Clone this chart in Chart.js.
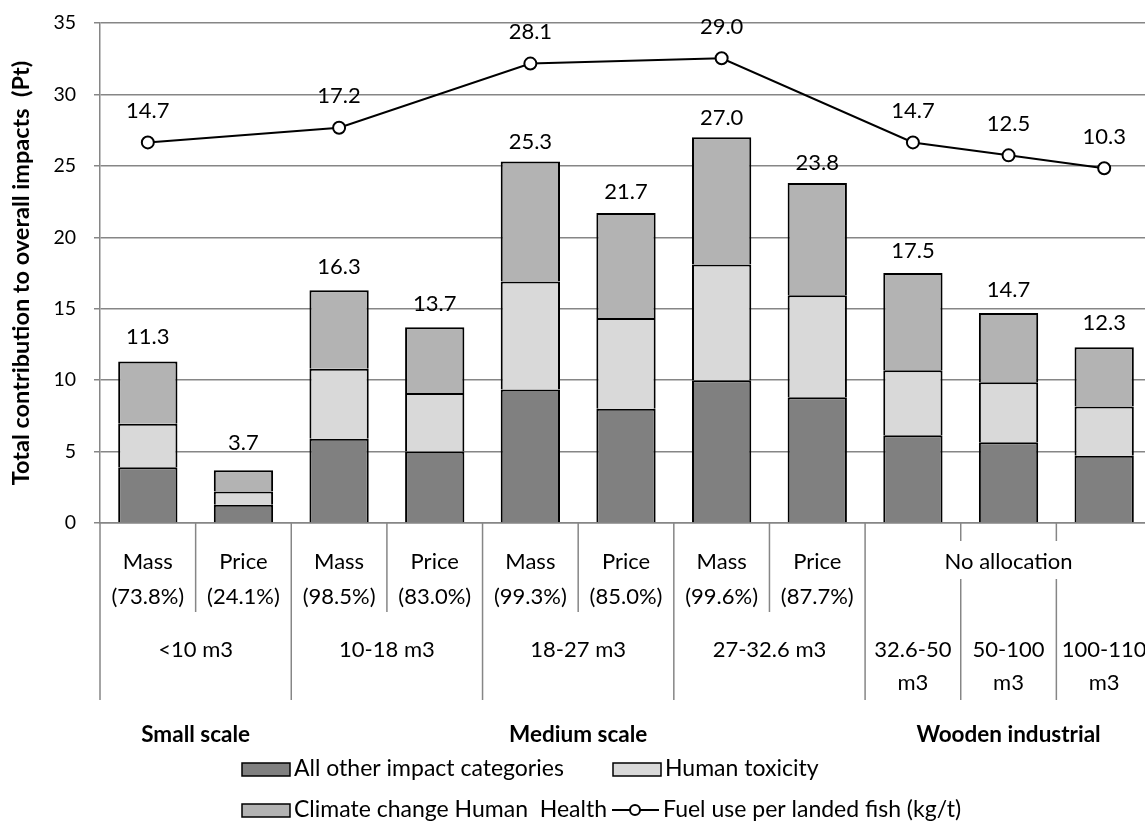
<!DOCTYPE html>
<html>
<head>
<meta charset="utf-8">
<script src="https://cdn.jsdelivr.net/npm/chart.js@4"></script>
<style>
  html, body { margin: 0; padding: 0; background: #fff; overflow: hidden; }
  #wrap { width: 1160px; height: 823px; }
</style>
</head>
<body>
<div id="wrap"><canvas id="bar-chart"></canvas></div>
<script>
// innermost category level (allocation method + share)
var allocation = ['Mass', 'Price', 'Mass', 'Price', 'Mass', 'Price', 'Mass', 'Price', '', '', ''];
var shares = ['(73.8%)', '(24.1%)', '(98.5%)', '(83.0%)', '(99.3%)', '(85.0%)', '(99.6%)', '(87.7%)', '', '', ''];
var noAllocation = { label: 'No allocation', from: 8, to: 10 };

// second level: vessel size
var sizeLabels = [['<10 m3'], ['10-18 m3'], ['18-27 m3'], ['27-32.6 m3'], ['32.6-50', 'm3'], ['50-100', 'm3'], ['100-110', 'm3']];
var sizeFrom = [0, 2, 4, 6, 8, 9, 10];
var sizeTo = [1, 3, 5, 7, 8, 9, 10];

// third level: fleet segment
var scaleLabels = ['Small scale', 'Medium scale', 'Wooden industrial'];
var scaleFrom = [0, 2, 8];
var scaleTo = [1, 7, 10];

// series (Pt)
var otherImpacts = [3.9, 1.27, 5.9, 5.0, 9.35, 8.0, 10.0, 8.8, 6.15, 5.65, 4.7];
var humanToxicity = [3.05, 0.93, 4.9, 4.1, 7.55, 6.35, 8.1, 7.15, 4.55, 4.2, 3.45];
var climateChange = [4.35, 1.5, 5.5, 4.6, 8.4, 7.35, 8.9, 7.85, 6.8, 4.85, 4.15];
// fuel use per landed fish (kg/t), secondary hidden axis
var fuelUse = [14.7, null, 17.2, null, 28.1, null, 29.0, null, 14.7, 12.5, 10.3];

var yTicks = { min: 0, max: 35, step: 5 };

var GRID = '#868686';
var FONT = 'Lato';

Chart.defaults.font.family = FONT;
Chart.defaults.color = '#000';

var labels = allocation.map(function (a, i) { return a + ' ' + shares[i]; });

function catEdge(scale, i) {
    var half = (scale.getPixelForValue(1) - scale.getPixelForValue(0)) / 2;
    if (i >= labels.length) return scale.getPixelForValue(labels.length - 1) + half;
    return scale.getPixelForValue(i) - half;
}

var extraDrawing = {
    id: 'extraDrawing',
    afterDraw: function (chart) {
        var ctx = chart.ctx;
        var x = chart.scales.x, y = chart.scales.y, y1 = chart.scales.y1;
        var axisY = chart.chartArea.bottom;
        ctx.save();
        ctx.textAlign = 'center';
        ctx.textBaseline = 'middle';
        ctx.fillStyle = '#000';

        // totals above the stacks (labels sit a bit closer on the tall bars)
        ctx.font = '22px ' + FONT;
        for (var i = 0; i < labels.length; i++) {
            var total = otherImpacts[i] + humanToxicity[i] + climateChange[i];
            ctx.fillText(total.toFixed(1), x.getPixelForValue(i), y.getPixelForValue(total * 0.975) - 28.6);
        }
        // line point labels
        for (i = 0; i < fuelUse.length; i++) {
            if (fuelUse[i] === null) continue;
            ctx.fillText(fuelUse[i].toFixed(1), x.getPixelForValue(i), y1.getPixelForValue(fuelUse[i]) - 31.5);
        }

        // separators of the multi level axis
        var longEdges = {};
        for (i = 0; i < sizeFrom.length; i++) {
            longEdges[sizeFrom[i]] = true;
            longEdges[sizeTo[i] + 1] = true;
        }
        ctx.strokeStyle = GRID;
        ctx.lineWidth = 1.5;
        for (i = 0; i <= labels.length; i++) {
            var ex = catEdge(x, i);
            ctx.beginPath();
            ctx.moveTo(ex, axisY);
            ctx.lineTo(ex, longEdges[i] ? axisY + 177 : axisY + 89);
            ctx.stroke();
        }

        // level 1
        ctx.font = '22px ' + FONT;
        for (i = 0; i < labels.length; i++) {
            if (!allocation[i]) continue;
            var cx = x.getPixelForValue(i);
            ctx.fillText(allocation[i], cx, axisY + 39);
            ctx.fillText(shares[i], cx, axisY + 74);
        }
        var nx = (x.getPixelForValue(noAllocation.from) + x.getPixelForValue(noAllocation.to)) / 2;
        var nw = ctx.measureText(noAllocation.label).width;
        ctx.fillStyle = '#fff';
        ctx.fillRect(nx - nw / 2 - 4, axisY + 18, nw + 8, 38);
        ctx.fillStyle = '#000';
        ctx.fillText(noAllocation.label, nx, axisY + 39);

        // level 2
        for (i = 0; i < sizeLabels.length; i++) {
            var gx = (catEdge(x, sizeFrom[i]) + catEdge(x, sizeTo[i] + 1)) / 2;
            var lines = sizeLabels[i];
            for (var k = 0; k < lines.length; k++) {
                ctx.fillText(lines[k], gx, axisY + 127 + k * 33);
            }
        }

        // level 3
        ctx.font = 'bold 22.5px ' + FONT;
        for (i = 0; i < scaleLabels.length; i++) {
            var sx = (catEdge(x, scaleFrom[i]) + catEdge(x, scaleTo[i] + 1)) / 2;
            ctx.fillText(scaleLabels[i], sx, axisY + 212);
        }

        // legend
        ctx.font = '23px ' + FONT;
        ctx.textAlign = 'left';
        var legendItems = [
            { text: 'All other impact categories', color: '#808080', x: 242, y: 769 },
            { text: 'Human toxicity', color: '#d9d9d9', x: 613, y: 769 },
            { text: 'Climate change Human  Health', color: '#b3b3b3', x: 242, y: 810 },
            { text: 'Fuel use per landed fish (kg/t)', line: true, x: 613, y: 810 }
        ];
        legendItems.forEach(function (it) {
            if (it.line) {
                ctx.strokeStyle = '#000';
                ctx.lineWidth = 2;
                ctx.beginPath();
                ctx.moveTo(it.x - 1, it.y);
                ctx.lineTo(it.x + 46, it.y);
                ctx.stroke();
                ctx.beginPath();
                ctx.arc(it.x + 22, it.y, 5, 0, Math.PI * 2);
                ctx.fillStyle = '#fff';
                ctx.fill();
                ctx.stroke();
                ctx.fillStyle = '#000';
                ctx.fillText(it.text, it.x + 50, it.y);
            } else {
                ctx.fillStyle = it.color;
                ctx.fillRect(it.x, it.y - 6, 48, 13);
                ctx.strokeStyle = '#000';
                ctx.lineWidth = 1.5;
                ctx.strokeRect(it.x, it.y - 6, 48, 13);
                ctx.fillStyle = '#000';
                ctx.fillText(it.text, it.x + 52, it.y);
            }
        });
        ctx.restore();
    }
};

function barSet(label, data, color) {
    return {
        type: 'bar',
        label: label,
        data: data,
        backgroundColor: color,
        borderColor: '#000',
        borderWidth: 2,
        barPercentage: 0.62,
        categoryPercentage: 1.0,
        yAxisID: 'y',
        order: 1
    };
}

new Chart(document.getElementById('bar-chart'), {
    data: {
        labels: labels,
        datasets: [
            {
                type: 'line',
                label: 'Fuel use per landed fish (kg/t)',
                data: fuelUse,
                yAxisID: 'y1',
                borderColor: '#000',
                borderWidth: 2,
                pointRadius: 6,
                pointBackgroundColor: '#fff',
                pointBorderColor: '#000',
                pointBorderWidth: 2,
                spanGaps: true,
                order: 0
            },
            barSet('All other impact categories', otherImpacts, '#808080'),
            barSet('Human toxicity', humanToxicity, '#d9d9d9'),
            barSet('Climate change Human  Health', climateChange, '#b3b3b3')
        ]
    },
    options: {
        responsive: true,
        maintainAspectRatio: false,
        animation: false,
        layout: { padding: { top: 23, right: 7, left: 0, bottom: 0 } },
        plugins: {
            legend: { display: false },
            tooltip: { enabled: false }
        },
        scales: {
            x: {
                stacked: true,
                offset: true,
                grid: { display: false },
                border: { display: true, color: GRID, width: 1.5 },
                ticks: { display: false },
                afterFit: function (scale) { scale.height = 300; }
            },
            y: {
                stacked: true,
                min: yTicks.min,
                max: yTicks.max,
                ticks: { stepSize: yTicks.step, padding: 18, font: { size: 19.5 } },
                grid: { color: GRID, lineWidth: 1.5, tickLength: 6 },
                border: { color: GRID, width: 1.5 },
                title: {
                    display: true,
                    text: 'Total contribution to overall impacts  (Pt)',
                    font: { size: 23.5, weight: 'bold' },
                    padding: { top: 7, bottom: 0 }
                },
                afterFit: function (scale) {
                    scale.width = 100;
                    // tick padding would otherwise push the plot top down
                    scale.paddingTop = 0;
                    scale.paddingBottom = 0;
                }
            },
            y1: {
                display: false,
                min: -50,
                max: 35
            }
        }
    },
    plugins: [extraDrawing]
});
</script>
</body>
</html>
